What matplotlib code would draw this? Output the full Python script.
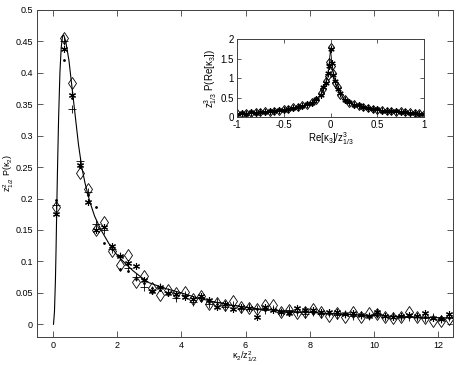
import matplotlib
matplotlib.use("Agg")
import matplotlib.pyplot as plt
from matplotlib.ticker import FormatStrFormatter

plt.rcParams['font.family'] = ['Liberation Sans', 'DejaVu Sans']
plt.rcParams['mathtext.default'] = 'regular'
plt.rcParams['font.size'] = 7

# main panel: bin centres and measured values (4 data sets)
x_bins = [0.1, 0.35, 0.6, 0.85, 1.1, 1.35, 1.6, 1.85, 2.1, 2.35,
          2.6, 2.85, 3.1, 3.35, 3.6, 3.85, 4.1, 4.35, 4.6, 4.85,
          5.1, 5.35, 5.6, 5.85, 6.1, 6.35, 6.6, 6.85, 7.1, 7.35,
          7.6, 7.85, 8.1, 8.35, 8.6, 8.85, 9.1, 9.35, 9.6, 9.85,
          10.1, 10.35, 10.6, 10.85, 11.1, 11.35, 11.6, 11.85, 12.1, 12.35]

p_diamond = [0.187, 0.455, 0.383, 0.24, 0.215, 0.15, 0.162, 0.117, 0.095, 0.11,
             0.068, 0.077, 0.058, 0.046, 0.055, 0.05, 0.052, 0.04, 0.045, 0.033,
             0.034, 0.03, 0.037, 0.027, 0.026, 0.024, 0.03, 0.03, 0.02, 0.022,
             0.018, 0.02, 0.025, 0.019, 0.014, 0.018, 0.012, 0.02, 0.012, 0.018,
             0.016, 0.012, 0.01, 0.012, 0.02, 0.011, 0.01, 0.006, 0.005, 0.008]

p_star = [0.175, 0.438, 0.365, 0.253, 0.195, 0.15, 0.155, 0.125, 0.108, 0.098,
          0.092, 0.07, 0.053, 0.06, 0.05, 0.048, 0.043, 0.04, 0.045, 0.038,
          0.028, 0.033, 0.025, 0.028, 0.026, 0.011, 0.027, 0.022, 0.02, 0.018,
          0.026, 0.022, 0.022, 0.02, 0.02, 0.02, 0.016, 0.018, 0.015, 0.014,
          0.02, 0.013, 0.012, 0.013, 0.015, 0.014, 0.018, 0.01, 0.008, 0.016]

p_plus = [0.19, 0.45, 0.343, 0.26, 0.21, 0.16, 0.15, 0.12, 0.108, 0.09,
          0.075, 0.06, 0.055, 0.06, 0.052, 0.042, 0.046, 0.036, 0.042, 0.032,
          0.036, 0.028, 0.03, 0.025, 0.027, 0.025, 0.022, 0.024, 0.019, 0.022,
          0.02, 0.016, 0.02, 0.016, 0.018, 0.015, 0.016, 0.014, 0.015, 0.013,
          0.016, 0.012, 0.013, 0.011, 0.012, 0.012, 0.01, 0.011, 0.009, 0.012]

p_dot = [0.197, 0.42, 0.36, 0.25, 0.205, 0.187, 0.13, 0.12, 0.088, 0.085,
         0.072, 0.065, 0.058, 0.055, 0.05, 0.046, 0.043, 0.04, 0.039, 0.035,
         0.033, 0.031, 0.029, 0.027, 0.026, 0.024, 0.023, 0.022, 0.021, 0.02,
         0.019, 0.019, 0.018, 0.018, 0.017, 0.016, 0.016, 0.015, 0.015, 0.014,
         0.014, 0.013, 0.013, 0.012, 0.012, 0.011, 0.011, 0.011, 0.01, 0.01]

# theory curve
x_curve = [0.02, 0.05, 0.08, 0.1, 0.12, 0.15, 0.18, 0.22, 0.26, 0.3, 0.34, 0.4,
           0.5, 0.6, 0.7, 0.8, 0.9, 1.0, 1.15, 1.3, 1.5, 1.75, 2.0, 2.25, 2.5,
           2.75, 3.0, 3.5, 4.0, 4.5, 5.0, 5.5, 6.0, 6.5, 7.0, 7.5, 8.0, 9.0,
           10.0, 11.0, 12.0, 12.5]
y_curve = [0.0, 0.02, 0.07, 0.12, 0.18, 0.26, 0.33, 0.40, 0.44, 0.458, 0.46, 0.45,
           0.42, 0.375, 0.33, 0.285, 0.25, 0.225, 0.195, 0.172, 0.15, 0.128, 0.11,
           0.097, 0.085, 0.075, 0.066, 0.057, 0.05, 0.042, 0.036, 0.031, 0.027,
           0.024, 0.022, 0.02, 0.019, 0.016, 0.014, 0.012, 0.0105, 0.0095]

# inset: Re[kappa_3] distribution
x_in = [-1.0, -0.95, -0.9, -0.85, -0.8, -0.75, -0.7, -0.65, -0.6, -0.55,
        -0.5, -0.45, -0.4, -0.35, -0.3, -0.25, -0.2, -0.15, -0.1, -0.075,
        -0.05, -0.03, -0.015, 0.0, 0.015, 0.03, 0.05, 0.075, 0.1, 0.15,
        0.2, 0.25, 0.3, 0.35, 0.4, 0.45, 0.5, 0.55, 0.6, 0.65,
        0.7, 0.75, 0.8, 0.85, 0.9, 0.95, 1.0]
in_line = [0.085, 0.09, 0.1, 0.11, 0.12, 0.13, 0.14, 0.15, 0.16, 0.175,
           0.19, 0.21, 0.24, 0.26, 0.29, 0.33, 0.38, 0.46, 0.6, 0.75,
           0.9, 1.1, 1.35, 1.77, 1.35, 1.1, 0.9, 0.75, 0.6, 0.46,
           0.38, 0.33, 0.29, 0.26, 0.24, 0.21, 0.19, 0.175, 0.16, 0.15,
           0.14, 0.13, 0.12, 0.11, 0.1, 0.09, 0.085]
in_diamond = [0.1, 0.08, 0.11, 0.1, 0.13, 0.12, 0.15, 0.14, 0.17, 0.16,
              0.2, 0.2, 0.25, 0.25, 0.3, 0.32, 0.4, 0.45, 0.62, 0.72,
              0.93, 1.05, 1.4, 1.8, 1.3, 1.12, 0.88, 0.77, 0.58, 0.47,
              0.37, 0.34, 0.28, 0.27, 0.23, 0.22, 0.18, 0.19, 0.16, 0.17,
              0.14, 0.15, 0.12, 0.13, 0.1, 0.11, 0.09]
in_star = [0.07, 0.1, 0.09, 0.12, 0.11, 0.14, 0.13, 0.16, 0.15, 0.18,
           0.18, 0.22, 0.23, 0.27, 0.28, 0.34, 0.37, 0.47, 0.58, 0.78,
           0.88, 1.12, 1.3, 1.75, 1.38, 1.08, 0.92, 0.73, 0.62, 0.45,
           0.39, 0.32, 0.3, 0.25, 0.24, 0.2, 0.2, 0.17, 0.17, 0.15,
           0.15, 0.13, 0.13, 0.11, 0.11, 0.09, 0.08]

asterisk = (6, 2, 0)
spine_col = '0.25'

fig = plt.figure(figsize=(4.6, 3.65), dpi=100)
ax = fig.add_axes([0.080, 0.077, 0.904, 0.896])

ax.plot(x_curve, y_curve, color='black', lw=0.8)
ax.plot(x_bins, p_diamond, 'd', ms=6, mfc='none', mec='black', mew=0.6)
ax.plot(x_bins, p_star, marker=asterisk, ls='none', ms=5, mec='black', mew=0.8)
ax.plot(x_bins, p_plus, '+', ms=6, mec='black', mew=0.6)
ax.plot(x_bins, p_dot, '.', ms=2, color='black')

ax.set_xlim(-0.5, 12.45)
ax.set_ylim(-0.02, 0.5)
ax.set_xticks([0, 2, 4, 6, 8, 10, 12])
ax.set_yticks([0, 0.05, 0.1, 0.15, 0.2, 0.25, 0.3, 0.35, 0.4, 0.45, 0.5])
ax.yaxis.set_major_formatter(FormatStrFormatter('%g'))
ax.tick_params(direction='in', top=True, right=True, length=4, width=0.6,
               color=spine_col, labelsize=6.5)
ax.tick_params(axis='x', pad=3)
ax.tick_params(axis='y', pad=3)
for s in ax.spines.values():
    s.set_color(spine_col)
    s.set_linewidth(0.7)
ax.set_xlabel(r'κ$_2$/z$^2_{1/2}$', fontsize=6.5)
ax.set_ylabel(r'z$^2_{1/2}$ P(κ$_2$)', fontsize=6.5)
ax.xaxis.set_label_coords(0.5, -0.04)
ax.yaxis.set_label_coords(-0.05, 0.5)

# inset
axi = fig.add_axes([0.515, 0.679, 0.407, 0.214])
axi.plot(x_in, in_line, color='black', lw=0.6)
axi.plot(x_in, in_diamond, 'd', ms=4.5, mfc='none', mec='black', mew=0.7)
axi.plot(x_in, in_star, marker=asterisk, ls='none', ms=4.5, mec='black', mew=0.8)
axi.plot(x_in, in_line, '+', ms=4.5, mec='black', mew=0.7)
axi.set_xlim(-1, 1)
axi.set_ylim(0, 2)
axi.set_xticks([-1, -0.5, 0, 0.5, 1])
axi.set_yticks([0, 0.5, 1, 1.5, 2])
axi.xaxis.set_major_formatter(FormatStrFormatter('%g'))
axi.yaxis.set_major_formatter(FormatStrFormatter('%g'))
axi.tick_params(direction='in', top=True, right=True, length=3, width=0.6,
                color=spine_col, labelsize=7, pad=2)
for s in axi.spines.values():
    s.set_color(spine_col)
    s.set_linewidth(0.7)
axi.set_xlabel(r'Re[κ$_3$]/z$^3_{1/3}$', fontsize=7, labelpad=0)
axi.set_ylabel(r'z$^3_{1/3}$ P(Re[κ$_3$])', fontsize=7, labelpad=1)

fig.savefig('out.png', dpi=100)
